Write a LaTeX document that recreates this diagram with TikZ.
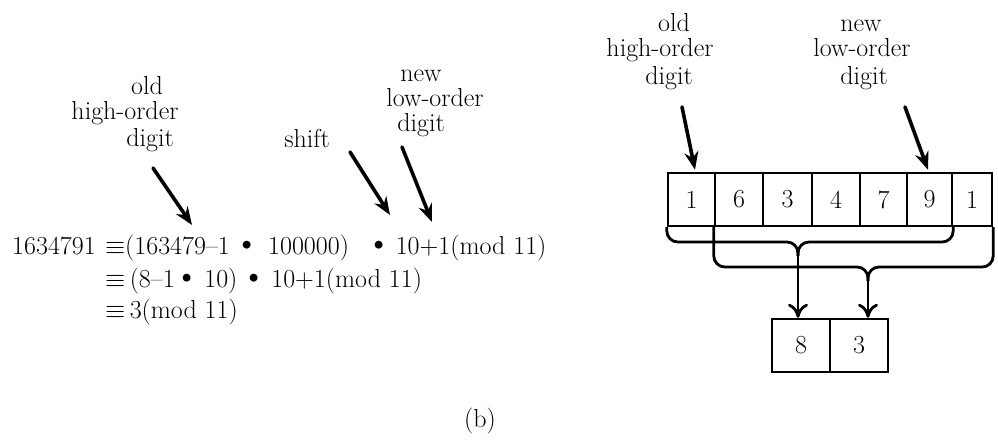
\RequirePackage{fix-cm}
\documentclass[tikz,border=0pt]{standalone}
\usetikzlibrary{arrows.meta}
\newcommand{\dotop}{\raisebox{0.5pt}{\scalebox{1.35}{\textbullet}}}
\begin{document}
\begin{tikzpicture}[x=1pt,y=-1pt,
  txt/.style={font=\fontsize{26}{26}\selectfont, inner sep=0pt, anchor=base},
  eqrow/.style={txt, anchor=base west},
  cell/.style={draw, line width=2.4pt, minimum height=53pt, inner sep=0pt,
               font=\fontsize{26}{26}\selectfont},
  pointer/.style={line width=3.6pt, line cap=round,
                  -{Stealth[length=18pt,width=14pt,inset=6pt]}},
  brace/.style={line width=2.8pt, rounded corners=11pt},
  feed/.style={line width=2.8pt, -{Computer Modern Rightarrow[length=14pt,width=20pt]}}]
\useasboundingbox (0,0) rectangle (998,443);

% ---- congruence computation ----
\node[eqrow] (num) at (12,255) {1634791};
\node[eqrow] (e1eq) at (105,255) {$\equiv$};
\node[eqrow] (e1a) at (125,255) {(163479--1\,\dotop\,\,100000)};
\node[eqrow] (e1b) at (366,255) {\dotop\,10+1(mod 11)};
\node[eqrow] (e2) at (105,288) {$\equiv$\,(8--1\dotop\,10)\,\dotop\,10+1(mod 11)};
\node[eqrow] (e3) at (105,319) {$\equiv$\,3(mod 11)};

% labels on the left
\node[txt] (lold1) at (147,95) {old};
\node[txt] (lold2) at (125,120) {high-order};
\node[txt] (lold3) at (150,147) {digit};
\node[txt] (lshift) at (307,148) {shift};
\node[txt] (lnew1) at (421,82) {new};
\node[txt] (lnew2) at (435,107) {low-order};
\node[txt] (lnew3) at (421,132) {digit};

\coordinate (a1s) at (153,168); \coordinate (a1e) at (192,225);
\coordinate (a2s) at (350,152); \coordinate (a2e) at (390,215);
\coordinate (a3s) at (402,147); \coordinate (a3e) at (432,222);
\draw[pointer] (a1s) -- (a1e);
\draw[pointer] (a2s) -- (a2e);
\draw[pointer] (a3s) -- (a3e);

% ---- digit register ----
\node[cell, minimum width=47pt] (c1) at (691.5,199.5) {1};
\node[cell, minimum width=48pt] (c2) at (739,199.5) {6};
\node[cell, minimum width=49pt] (c3) at (787.5,199.5) {3};
\node[cell, minimum width=48pt] (c4) at (836,199.5) {4};
\node[cell, minimum width=47pt] (c5) at (883.5,199.5) {7};
\node[cell, minimum width=45pt] (c6) at (929.5,199.5) {9};
\node[cell, minimum width=40pt] (c7) at (972,199.5) {1};

\node[cell, minimum width=58pt] (r1) at (801,345.5) {8};
\node[cell, minimum width=58pt] (r2) at (859,345.5) {3};

% labels on the right
\node[txt] (rold1) at (674,32) {old};
\node[txt] (rold2) at (660,57) {high-order};
\node[txt] (rold3) at (669,85) {digit};
\node[txt] (rnew1) at (861,32) {new};
\node[txt] (rnew2) at (862,57) {low-order};
\node[txt] (rnew3) at (864,85) {digit};

\coordinate (b1s) at (682,107);
\coordinate (b2s) at (905,107);
\draw[pointer] (b1s) -- ([xshift=3.5pt,yshift=2pt]c1.north);
\draw[pointer] (b2s) -- ([xshift=-1.5pt,yshift=2pt]c6.north);

% braces collecting the old and new digits
\coordinate (j1) at (798,256);
\coordinate (j2) at (868,281);
\draw[brace] (c1.south west) -- (c1.south west |- 0,242) -- (j1 |- 0,242) -- (j1);
\draw[brace] (c6.south east) -- (c6.south east |- 0,242) -- (j1 |- 0,242) -- (j1);
\draw[brace] (c2.south west) -- (c2.south west |- 0,267) -- (j2 |- 0,267) -- (j2);
\draw[brace] (c7.south east) -- (c7.south east |- 0,267) -- (j2 |- 0,267) -- (j2);
\draw[feed] (j1) -- (j1 |- r1.north);
\draw[feed] (j2) -- (j2 |- r2.north);

\node[txt] (cap) at (480,427) {(b)};
\end{tikzpicture}
\end{document}
